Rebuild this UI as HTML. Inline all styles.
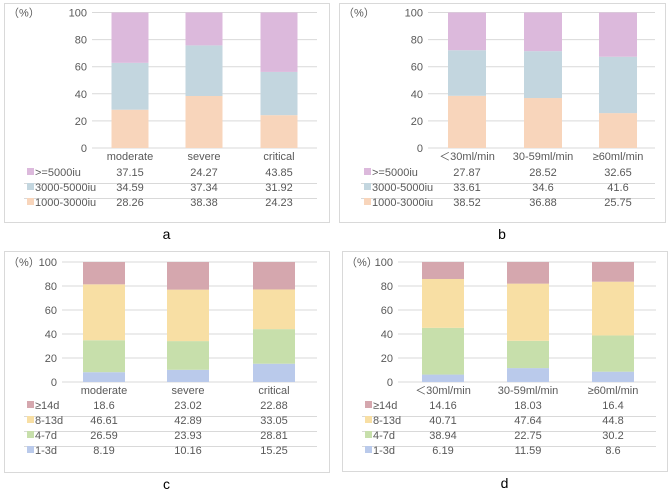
<!DOCTYPE html>
<html><head><meta charset="utf-8"><style>
html,body{margin:0;padding:0;background:#fff;width:669px;height:490px;overflow:hidden}
svg text{font-family:"Liberation Sans","Noto Sans CJK SC",sans-serif;fill:#595959;font-size:11px}
</style></head><body>
<svg id="fig" width="669" height="490" xmlns="http://www.w3.org/2000/svg"></svg>
<script>
const ticks=[0,20,40,60,80,100];
const catsA=["moderate","severe","critical"];
const catsB=["\uFF1C30ml/min","30-59ml/min","\u226560ml/min"];
const seriesAB=[">=5000iu","3000-5000iu","1000-3000iu"];
const colorsAB=["#dcb9dc","#c3d6df","#f8d5bb"];
const a_hi=[37.15,24.27,43.85];
const a_mid=[34.59,37.34,31.92];
const a_lo=[28.26,38.38,24.23];
const b_hi=[27.87,28.52,32.65];
const b_mid=[33.61,34.6,41.6];
const b_lo=[38.52,36.88,25.75];
const seriesCD=["\u226514d","8-13d","4-7d","1-3d"];
const colorsCD=["#d5a7ae","#f8dfa4","#c7dfab","#bacaeb"];
const c_14=[18.6,23.02,22.88];
const c_8=[46.61,42.89,33.05];
const c_4=[26.59,23.93,28.81];
const c_1=[8.19,10.16,15.25];
const d_14=[14.16,18.03,16.4];
const d_8=[40.71,47.64,44.8];
const d_4=[38.94,22.75,30.2];
const d_1=[6.19,11.59,8.6];

const NS="http://www.w3.org/2000/svg";
const fig=document.getElementById('fig');
function el(tag,attrs,parent,txt){const e=document.createElementNS(NS,tag);for(const k in attrs)e.setAttribute(k,attrs[k]);if(txt!==undefined)e.textContent=txt;parent.appendChild(e);return e;}

function panel(p){
  const g=el('g',{},fig);
  
  
  const fr=el('rect',{x:p.bx0+0.5,y:p.by0+0.5,width:p.bx1-p.bx0,height:p.by1-p.by0,fill:'#fff',stroke:'#d9d9d9'},g);
  
  
  const yS=v=>p.y0+(p.y100-p.y0)*v/100;
  ticks.forEach(t=>{
    const ln=el('line',{x1:p.gx0,x2:p.gx1,y1:yS(t),y2:yS(t),stroke:'#d9d9d9'},g);
    
    
    const tx=el('text',{x:p.gx0-5,y:yS(t)+4,'text-anchor':'end'},g,String(t));
    
    
  });
  const u=el('text',{x:p.bx0+4,y:yS(100)+4},g,'（%）');
  
  
  const n=p.series.length;
  p.cats.forEach((c,i)=>{
    const cx=p.cx[i];
    let acc=0;
    for(let s=n-1;s>=0;s--){
      const v=p.vals[s][i];
      const r=el('rect',{x:cx-p.bw/2,y:yS(acc+v),width:p.bw,height:yS(acc)-yS(acc+v),fill:p.colors[s]},g);
      
      
      acc+=v;
    }
    const cl=el('text',{x:cx,y:p.catY,'text-anchor':'middle'},g,c);
    
    
  });
  p.series.forEach((s,si)=>{
    const ry=p.rowY+si*p.rowH;
    const sw=el('rect',{x:p.tx0,y:ry-8,width:7,height:7,fill:p.colors[si]},g);
    
    
    const lt=el('text',{x:p.tx0+8,y:ry},g,s);
    
    
    p.cats.forEach((c,i)=>{
      const vt=el('text',{x:p.cx[i],y:ry,'text-anchor':'middle'},g,String(p.vals[si][i]));
      
      
    });
    if(si<p.series.length-1){
      const sl=el('line',{x1:p.tx0-3,x2:p.gx1,y1:ry+7.5,y2:ry+7.5,stroke:'#d9d9d9'},g);
      
      
    }
  });
  const pl=el('text',{x:(p.bx0+p.bx1)/2,y:p.by1+17,'text-anchor':'middle',style:'font-size:14px;fill:#000'},g,p.id);
  
  
}

panel({id:'a',bx0:4,bx1:329,by0:3,by1:222,gx0:92,gx1:317,y0:148,y100:12.5,cats:catsA,cx:[130,204,279],bw:37,catY:160,series:seriesAB,colors:colorsAB,vals:[a_hi,a_mid,a_lo],rowY:176,rowH:15,tx0:27});
panel({id:'b',bx0:339,bx1:665,by0:3,by1:222,gx0:428,gx1:655,y0:148,y100:12.5,cats:catsB,cx:[467,543,618],bw:38,catY:160,series:seriesAB,colors:colorsAB,vals:[b_hi,b_mid,b_lo],rowY:176,rowH:15,tx0:364});
panel({id:'c',bx0:4,bx1:329,by0:251,by1:472,gx0:62,gx1:317,y0:382,y100:262,cats:catsA,cx:[104,188,274],bw:42,catY:394,series:seriesCD,colors:colorsCD,vals:[c_14,c_8,c_4,c_1],rowY:409,rowH:15,tx0:27});
panel({id:'d',bx0:342,bx1:667,by0:251,by1:471,gx0:398,gx1:656,y0:382,y100:262,cats:catsB,cx:[443,528,613],bw:42,catY:394,series:seriesCD,colors:colorsCD,vals:[d_14,d_8,d_4,d_1],rowY:409,rowH:15,tx0:365});
</script>
</body></html>
